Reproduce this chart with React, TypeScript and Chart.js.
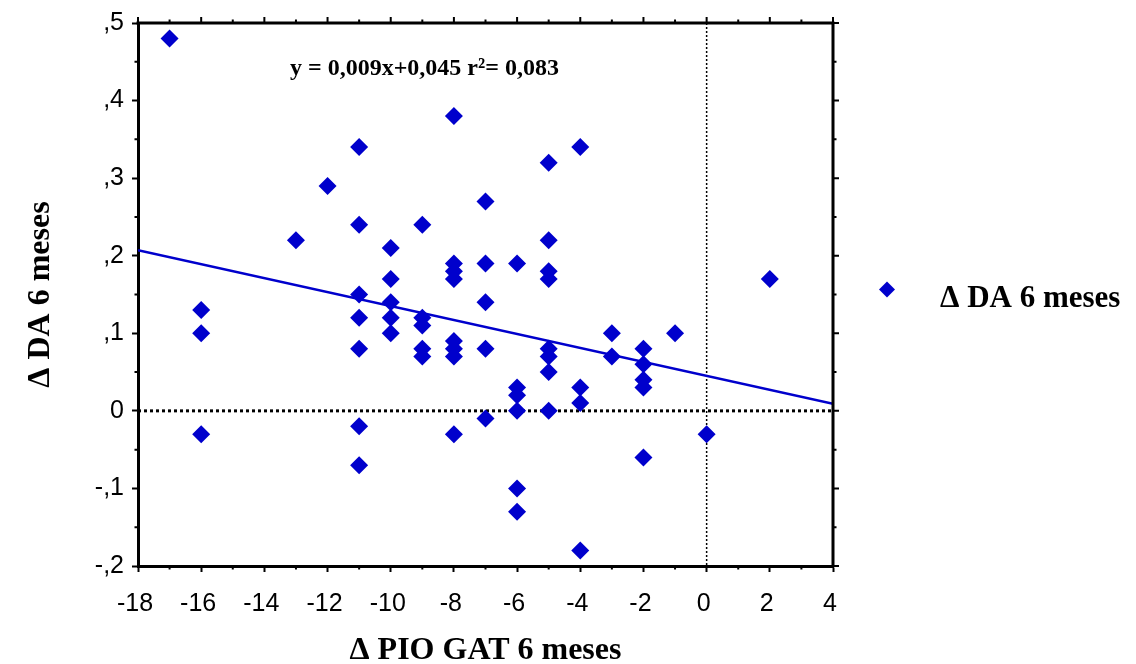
import React, { useEffect, useRef } from 'react';
import { Chart, registerables } from 'chart.js';

Chart.register(...registerables);

// ---- data ----
const xValues: number[] = [
  -17,
  -16, -16, -16,
  -13,
  -12,
  -11, -11, -11, -11, -11, -11, -11,
  -10, -10, -10, -10, -10,
  -9, -9, -9, -9, -9,
  -8, -8, -8, -8, -8, -8, -8, -8,
  -7, -7, -7, -7, -7,
  -6, -6, -6, -6, -6, -6,
  -5, -5, -5, -5, -5, -5, -5, -5,
  -4, -4, -4, -4,
  -3, -3,
  -2, -2, -2, -2, -2,
  -1,
  0,
  2,
];
const yValues: number[] = [
  0.48,
  0.13, 0.10, -0.03,
  0.22,
  0.29,
  0.34, 0.24, 0.15, 0.12, 0.08, -0.02, -0.07,
  0.21, 0.17, 0.14, 0.12, 0.10,
  0.24, 0.12, 0.11, 0.08, 0.07,
  0.38, 0.19, 0.18, 0.17, 0.09, 0.08, 0.07, -0.03,
  0.27, 0.19, 0.14, 0.08, -0.01,
  0.19, 0.03, 0.02, 0.0, -0.10, -0.13,
  0.32, 0.22, 0.18, 0.17, 0.08, 0.07, 0.05, 0.0,
  0.34, 0.03, 0.01, -0.18,
  0.10, 0.07,
  0.08, 0.06, 0.04, 0.03, -0.06,
  0.10,
  -0.03,
  0.17,
];

const seriesLabel = 'Δ DA 6 meses';
const xAxisTitle = 'Δ PIO GAT 6 meses';
const yAxisTitle = 'Δ DA 6 meses';
const regressionText = 'y = 0,009x+0,045 r²= 0,083';
const fitSlope = -0.009;
const fitIntercept = 0.045;
const fitRangeX: number[] = [-18, 4];

const xTickValues: number[] = [-18, -16, -14, -12, -10, -8, -6, -4, -2, 0, 2, 4];
const xTickLabels: string[] = ['-18', '-16', '-14', '-12', '-10', '-8', '-6', '-4', '-2', '0', '2', '4'];
const yTickValues: number[] = [-0.2, -0.1, 0, 0.1, 0.2, 0.3, 0.4, 0.5];
const yTickLabels: string[] = ['-,2', '-,1', '0', ',1', ',2', ',3', ',4', ',5'];

const BLUE = '#0000CC';
const SANS = '"Liberation Sans", Arial, Helvetica, sans-serif';
const SERIF = '"Liberation Serif", "Times New Roman", serif';

const decorPlugin = {
  id: 'decor',
  beforeDatasetsDraw(chart: any) {
    const { ctx, chartArea } = chart;
    const { left, right, top, bottom } = chartArea;
    const xs = chart.scales.x;
    const ys = chart.scales.y;
    ctx.save();
    // horizontal zero line
    const y0 = ys.getPixelForValue(0);
    ctx.strokeStyle = '#000';
    ctx.lineWidth = 3;
    ctx.setLineDash([3, 3]);
    ctx.beginPath();
    ctx.moveTo(left, y0);
    ctx.lineTo(right, y0);
    ctx.stroke();
    // vertical zero line
    const x0 = xs.getPixelForValue(0);
    ctx.lineWidth = 1.5;
    ctx.setLineDash([2, 2]);
    ctx.beginPath();
    ctx.moveTo(x0, top);
    ctx.lineTo(x0, bottom);
    ctx.stroke();
    ctx.restore();
  },
  afterDraw(chart: any) {
    const { ctx, chartArea } = chart;
    const { left, right, top, bottom } = chartArea;
    const xs = chart.scales.x;
    const ys = chart.scales.y;
    ctx.save();
    ctx.setLineDash([]);
    ctx.strokeStyle = '#000';
    // top and right frame
    ctx.lineWidth = 3;
    ctx.beginPath();
    ctx.moveTo(left - 1.5, top);
    ctx.lineTo(right + 1.5, top);
    ctx.moveTo(right, top);
    ctx.lineTo(right, bottom + 1.5);
    ctx.stroke();
    // tick marks (major and minor) on all sides
    ctx.lineWidth = 2;
    ctx.beginPath();
    const xmin = xs.min, xmax = xs.max;
    for (let v = Math.ceil(xmin); v <= xmax; v++) {
      const px = xs.getPixelForValue(v);
      const major = v % 2 === 0;
      const len = major ? 6 : 3.5;
      ctx.moveTo(px, top);
      ctx.lineTo(px, top - len);
      if (!major) {
        ctx.moveTo(px, bottom);
        ctx.lineTo(px, bottom + len);
      }
    }
    const kmin = Math.round(ys.min / 0.05), kmax = Math.round(ys.max / 0.05);
    for (let k = kmin; k <= kmax; k++) {
      const py = ys.getPixelForValue(k * 0.05);
      const major = k % 2 === 0;
      const len = major ? 6 : 3.5;
      ctx.moveTo(right, py);
      ctx.lineTo(right + len, py);
      if (!major) {
        ctx.moveTo(left, py);
        ctx.lineTo(left - len, py);
      }
    }
    ctx.stroke();

    // regression annotation
    ctx.fillStyle = '#000';
    ctx.font = `bold 24px ${SERIF}`;
    ctx.textAlign = 'left';
    ctx.textBaseline = 'middle';
    ctx.fillText(regressionText, left + 152, top + 46);

    // legend
    const ds = chart.data.datasets[0];
    const mx = right + 54;
    const my = (top + bottom) / 2 - 5;
    const r = 8;
    ctx.fillStyle = ds.backgroundColor;
    ctx.beginPath();
    ctx.moveTo(mx, my - r);
    ctx.lineTo(mx + r, my);
    ctx.lineTo(mx, my + r);
    ctx.lineTo(mx - r, my);
    ctx.closePath();
    ctx.fill();
    ctx.fillStyle = '#000';
    ctx.font = `bold 31px ${SERIF}`;
    ctx.textBaseline = 'middle';
    ctx.fillText(ds.label, right + 107, my + 9);
    ctx.restore();
  },
};

export default function App() {
  const canvasRef = useRef<HTMLCanvasElement | null>(null);

  useEffect(() => {
    const canvas = canvasRef.current;
    if (!canvas) return;
    const points = xValues.map((x, i) => ({ x, y: yValues[i] }));
    const fitLine = fitRangeX.map((x) => ({ x, y: fitIntercept + fitSlope * x }));

    const chart = new Chart(canvas, {
      type: 'scatter',
      data: {
        datasets: [
          {
            label: seriesLabel,
            data: points,
            pointStyle: 'rectRot',
            pointRadius: 9,
            pointHoverRadius: 9,
            backgroundColor: BLUE,
            borderColor: BLUE,
            borderWidth: 0,
            order: 1,
          },
          {
            label: 'fit',
            data: fitLine,
            showLine: true,
            pointRadius: 0,
            borderColor: BLUE,
            backgroundColor: BLUE,
            borderWidth: 2.5,
            order: 2,
          },
        ],
      },
      options: {
        responsive: false,
        animation: false,
        devicePixelRatio: 1,
        layout: { padding: { top: 19, right: 303, left: 0, bottom: 0 } },
        plugins: {
          legend: { display: false },
          tooltip: { enabled: false },
        },
        scales: {
          x: {
            type: 'linear',
            min: -18,
            max: 4,
            afterFit: (s: any) => {
              s.height = 98;
            },
            afterBuildTicks: (s: any) => {
              s.ticks = xTickValues.map((value) => ({ value }));
            },
            ticks: {
              color: '#000',
              font: { family: SANS, size: 25 },
              padding: 17,
              labelOffset: -3,
              maxRotation: 0,
              autoSkip: false,
              callback: (v: any) => {
                const i = xTickValues.indexOf(Math.round(Number(v)));
                return i >= 0 ? xTickLabels[i] : '';
              },
            },
            grid: {
              display: true,
              drawOnChartArea: false,
              drawTicks: true,
              tickLength: 6,
              tickWidth: 2,
              tickColor: '#000',
            },
            border: { display: true, color: '#000', width: 3 },
            title: {
              display: true,
              text: xAxisTitle,
              color: '#000',
              font: { family: SERIF, size: 32, weight: 'bold', lineHeight: 0.8 },
              padding: { top: 0, bottom: 0 },
            },
          },
          y: {
            type: 'linear',
            min: -0.2,
            max: 0.5,
            afterFit: (s: any) => {
              s.width = 138;
            },
            afterBuildTicks: (s: any) => {
              s.ticks = yTickValues.map((value) => ({ value }));
            },
            ticks: {
              color: '#000',
              font: { family: SANS, size: 25 },
              padding: 8,
              autoSkip: false,
              callback: (v: any) => {
                const n = Math.round(Number(v) * 10);
                const i = yTickValues.findIndex((t) => Math.round(t * 10) === n);
                return i >= 0 ? yTickLabels[i] : '';
              },
            },
            grid: {
              display: true,
              drawOnChartArea: false,
              drawTicks: true,
              tickLength: 6,
              tickWidth: 2,
              tickColor: '#000',
            },
            border: { display: true, color: '#000', width: 3 },
            title: {
              display: true,
              text: yAxisTitle,
              color: '#000',
              font: { family: SERIF, size: 32, weight: 'bold', lineHeight: 1.0 },
              padding: { top: 25, bottom: 0 },
            },
          },
        },
      },
      plugins: [decorPlugin],
    } as any);

    return () => {
      chart.destroy();
    };
  }, []);

  return (
    <div style={{ position: 'fixed', left: 0, top: 0, width: 1136, height: 664, background: '#fff' }}>
      <canvas ref={canvasRef} width={1136} height={664} style={{ display: 'block', width: 1136, height: 664 }} />
    </div>
  );
}
